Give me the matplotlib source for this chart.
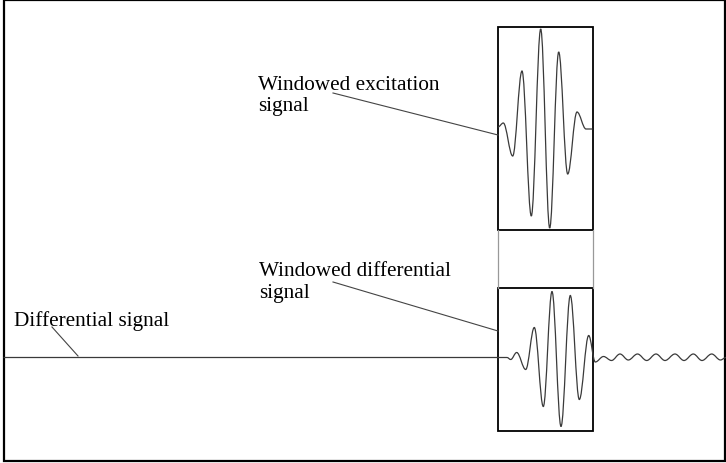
import numpy as np
import matplotlib
matplotlib.use("Agg")
import matplotlib.pyplot as plt
from matplotlib.path import Path
from matplotlib.patches import PathPatch, Rectangle

# excitation burst: extrema (t relative to window start, amplitude normalised)
exc_t = [0, 5.3, 14.7, 24.0, 33.3, 42.7, 51.7, 60.7, 69.7, 79.0, 88.0, 94.5]
exc_v = [0.02, 0.06, -0.27, 0.58, -0.87, 1.00, -0.99, 0.77, -0.45, 0.17, 0.0, 0.0]

# differential signal: flat lead-in, windowed burst, then small ringing tail
diff_t = [-494.5, 9.0, 12.7, 18.7, 27.7, 36.3, 45.3, 54.0, 63.0, 72.3, 81.3, 90.7,
          97.3, 105.5, 113.5, 122.0, 130.3, 139.5, 148.7, 158.0, 167.0, 177.0,
          186.0, 195.3, 204.0, 213.7, 222.5, 228.0]
diff_v = [0.0, 0.0, -0.02, 0.05, -0.12, 0.30, -0.49, 0.66, -0.69, 0.62, -0.42, 0.22,
          -0.045, 0.01, -0.03, 0.035, -0.025, 0.035, -0.03, 0.035, -0.03, 0.035,
          -0.03, 0.035, -0.03, 0.035, -0.025, 0.0]

labels = ["Windowed excitation\nsignal", "Windowed differential\nsignal", "Differential signal"]

# layout (pixel-like canvas coordinates)
W, H = 726, 464
win_x0, win_x1 = 498, 592.5
exc_base, diff_base, amp_scale = 130, 358.5, 100


def wave_path(t, v, x0, base):
    # smooth curve through the extrema: cubic segments with flat tangents at each point
    xs = [x0 + a for a in t]
    ys = [base - b * amp_scale for b in v]
    verts = [(xs[0], ys[0])]
    codes = [Path.MOVETO]
    k = 0.364
    for i in range(len(xs) - 1):
        dx = xs[i + 1] - xs[i]
        verts += [(xs[i] + k * dx, ys[i]), (xs[i + 1] - k * dx, ys[i + 1]), (xs[i + 1], ys[i + 1])]
        codes += [Path.CURVE4] * 3
    return Path(verts, codes)


fig = plt.figure(figsize=(W / 100, H / 100), dpi=100)
ax = fig.add_axes([0, 0, 1, 1])
ax.set_xlim(0, W)
ax.set_ylim(H, 0)
ax.axis("off")

# outer frame
ax.add_patch(Rectangle((3.7, 1.0), 721.3, 461.3, fill=False, ec="black", lw=1.6))

# window boxes
ax.add_patch(Rectangle((win_x0, 28), win_x1 - win_x0, 203, fill=False, ec="black", lw=1.3))
ax.add_patch(Rectangle((win_x0, 289), win_x1 - win_x0, 143, fill=False, ec="black", lw=1.3))
ax.plot([win_x0, win_x0], [231, 289], color="#999999", lw=0.9)
ax.plot([win_x1, win_x1], [231, 289], color="#999999", lw=0.9)

ax.add_patch(PathPatch(wave_path(exc_t, exc_v, win_x0, exc_base), fill=False, ec="#3a3a3a", lw=0.9))
ax.add_patch(PathPatch(wave_path(diff_t, diff_v, win_x0, diff_base), fill=False, ec="#3a3a3a", lw=0.9))

# labels and leader lines
font = dict(family="Liberation Serif", size=15.3, color="black", va="baseline", ha="left")
l1, l2 = labels[0].split("\n")
ax.text(258.5, 89.5, l1, **font)
ax.text(258.5, 111.5, l2, **font)
ax.plot([333, 498], [94, 136], color="#444444", lw=0.8)

l1, l2 = labels[1].split("\n")
ax.text(259, 276, l1, **font)
ax.text(259, 298, l2, **font)
ax.plot([333, 498], [283, 332], color="#444444", lw=0.8)

ax.text(13.5, 326.5, labels[2], **font)
ax.plot([52, 78], [328, 357], color="#444444", lw=0.8)

fig.savefig("out.png", dpi=100, facecolor="white")
